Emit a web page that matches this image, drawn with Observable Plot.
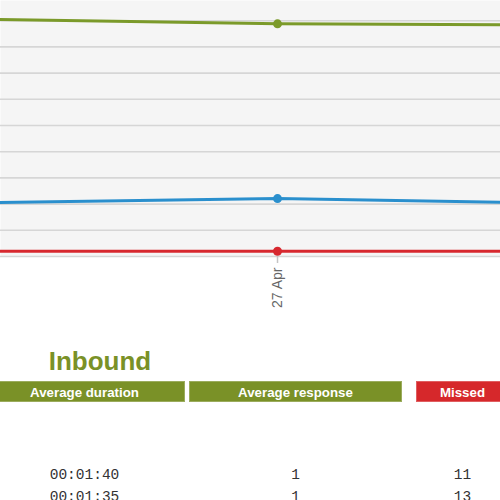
<!DOCTYPE html>
<html>
<head>
<meta charset="utf-8">
<script src="https://cdn.jsdelivr.net/npm/d3@7"></script>
<script src="https://cdn.jsdelivr.net/npm/@observablehq/plot@0.6"></script>
<style>
  html, body { margin: 0; padding: 0; background: #fff; }
  #wrap { position: relative; width: 500px; height: 500px; overflow: hidden; font-family: "Liberation Sans", Arial, sans-serif; }
  #chart { position: absolute; left: 0; top: 0; }
  #title { position: absolute; left: 0; width: 200px; top: 346px; text-align: center; font-weight: bold; font-size: 26px; color: #7a9127; }
  .col { position: absolute; top: 381px; }
  .head { height: 21px; line-height: 21px; text-align: center; color: #fff; font-weight: bold; font-size: 13.3px; box-sizing: border-box; border: 1px solid rgba(255,255,255,0.25); }
  .cell { height: 22px; line-height: 22px; text-align: center; font-family: "Liberation Mono", "Courier New", monospace; font-size: 14.5px; color: #333; }
  .gap { height: 62px; }
</style>
</head>
<body>
<div id="wrap">
  <div id="chart"></div>
  <div id="title"></div>
  <div id="table"></div>
</div>
<script>
// Daily inbound call series
const days = ["2021-04-26", "2021-04-27", "2021-04-28"];
const answered = [90.6, 88.8, 88.3];
const outbound = [20.5, 22.1, 20.2];
const missed = [2, 2, 2];
const seriesNames = ["Answered", "Outbound", "Missed"];
const seriesColors = ["#7b9a2a", "#2a8fcd", "#d7282f"];
const gridTicks = [0, 10, 20, 30, 40, 50, 60, 70, 80, 90];
const dateTicks = ["2021-04-27"];

// Inbound summary table
const tableTitle = "Inbound";
const columns = ["Average duration", "Average response", "Missed"];
const columnColors = ["#7a9127", "#7a9127", "#d6282b"];
const avgDuration = ["00:01:40", "00:01:35"];
const avgResponse = ["1", "1"];
const missedCalls = ["11", "13"];

const parse = d3.utcParse("%Y-%m-%d");
const rows = [];
[answered, outbound, missed].forEach((vals, s) => {
  vals.forEach((v, i) => rows.push({date: parse(days[i]), value: v, series: seriesNames[s]}));
});
const focus = parse(dateTicks[0]);
const dayMs = 864e5;
// visible window around the focused day
const xDomain = [new Date(+focus - 0.923 * dayMs), new Date(+focus + 0.743 * dayMs)];

const chart = Plot.plot({
  width: 500,
  height: 320,
  marginTop: 0,
  marginLeft: 0,
  marginRight: 0,
  marginBottom: 64,
  style: {fontFamily: "Liberation Sans, Arial, sans-serif", fontSize: "14px", background: "transparent"},
  x: {type: "utc", domain: xDomain, axis: null},
  y: {domain: [0, 97.7], axis: null},
  color: {domain: seriesNames, range: seriesColors},
  marks: [
    Plot.frame({fill: "#f5f5f5", stroke: null}),
    Plot.ruleY(gridTicks, {stroke: "#d6d6d6", strokeWidth: 1.6}),
    Plot.axisX({ticks: dateTicks.map(parse), tickFormat: d3.utcFormat("%d %b"), tickRotate: -90, tickSize: 7, tickPadding: 4, stroke: "#c4c4c4", fill: "#666", strokeWidth: 1.5}),
    Plot.line(rows, {x: "date", y: "value", z: "series", stroke: "series", strokeWidth: 3, clip: true}),
    Plot.dot(rows, {x: "date", y: "value", fill: "series", r: 4.5, clip: true})
  ]
});
document.getElementById("chart").appendChild(chart);

document.getElementById("title").textContent = tableTitle;

// column placement of the summary table
const colBoxes = [[-16, 201], [189, 213], [416, 93]];
const colValues = [avgDuration, avgResponse, missedCalls];
const table = document.getElementById("table");
columns.forEach((name, c) => {
  const col = document.createElement("div");
  col.className = "col";
  col.style.left = colBoxes[c][0] + "px";
  col.style.width = colBoxes[c][1] + "px";
  const head = document.createElement("div");
  head.className = "head";
  head.style.background = columnColors[c];
  head.textContent = name;
  col.appendChild(head);
  const gap = document.createElement("div");
  gap.className = "gap";
  col.appendChild(gap);
  colValues[c].forEach(v => {
    const cell = document.createElement("div");
    cell.className = "cell";
    cell.textContent = v;
    col.appendChild(cell);
  });
  table.appendChild(col);
});
</script>
</body>
</html>
